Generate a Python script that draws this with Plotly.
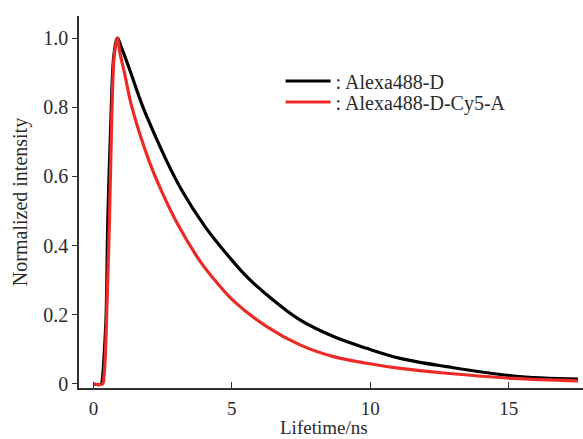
import plotly.graph_objects as go

# Data
black_x = [0, 0.28, 0.33, 0.40, 0.46, 0.52, 0.63, 0.74, 0.87, 1.0, 1.26, 1.79, 2.3, 2.63,
           3.19, 4.03, 5.0, 5.6, 6.26, 7.46, 8.67, 9.87, 11.08, 12.76, 15.17, 17.5]
black_y = [0, 0, 0.02, 0.10, 0.20, 0.47, 0.76, 0.95, 1.0, 0.975, 0.92, 0.80, 0.705, 0.647,
           0.56, 0.455, 0.358, 0.305, 0.258, 0.185, 0.137, 0.103, 0.074, 0.050, 0.023, 0.014]

red_x = [0, 0.33, 0.38, 0.44, 0.48, 0.58, 0.66, 0.76, 0.87, 0.95, 1.12, 1.39, 2.0, 2.47,
         3.07, 3.85, 4.28, 5.06, 6.26, 7.46, 8.67, 9.87, 11.08, 12.76, 15.17, 17.5]
red_y = [0, 0, 0.02, 0.10, 0.204, 0.474, 0.763, 0.956, 1.0, 0.96, 0.90, 0.80, 0.647, 0.556,
         0.458, 0.355, 0.310, 0.240, 0.166, 0.113, 0.079, 0.060, 0.045, 0.031, 0.016, 0.009]

x_ticks = [0, 5, 10, 15]
y_ticks = [0, 0.2, 0.4, 0.6, 0.8, 1.0]
y_tick_labels = ["0", "0.2", "0.4", "0.6", "0.8", "1.0"]
x_title = "Lifetime/ns"
y_title = "Normalized intensity"

FONT = "Liberation Serif"
TXT = "#2b2b2b"

fig = go.Figure()
fig.add_trace(go.Scatter(x=black_x, y=black_y, mode="lines", name=": Alexa488-D",
                         legend="legend",
                         line=dict(color="#000000", width=3.2, shape="spline", smoothing=1.0)))
fig.add_trace(go.Scatter(x=red_x, y=red_y, mode="lines", name=": Alexa488-D-Cy5-A",
                         legend="legend2",
                         line=dict(color="#ec2a27", width=3.2, shape="spline", smoothing=1.0)))

leg_common = dict(xanchor="left", yanchor="middle", bgcolor="rgba(0,0,0,0)",
                  font=dict(family=FONT, size=20, color=TXT), itemwidth=45)

fig.update_layout(
    width=583, height=439,
    margin=dict(l=79, r=0, t=16, b=51, autoexpand=False),
    paper_bgcolor="white", plot_bgcolor="white",
    font=dict(family=FONT, size=20, color=TXT),
    showlegend=True,
    legend=dict(x=0.40, y=1 - (81 - 16) / 372, **leg_common),
    legend2=dict(x=0.40, y=1 - (102 - 16) / 372, **leg_common),
    xaxis=dict(range=[-0.52, 17.68], tickvals=x_ticks, ticks="inside", ticklen=6,
               tickwidth=1.2, tickcolor="#333", showline=True, linecolor="#333",
               linewidth=1.6, showgrid=False, zeroline=False, ticklabelstandoff=2,
               automargin=False,
               tickfont=dict(family=FONT, size=19, color=TXT)),
    yaxis=dict(range=[-0.0116, 1.0636], tickvals=y_ticks, ticktext=y_tick_labels,
               ticks="outside", ticklen=5, tickwidth=1.2, tickcolor="#333",
               showline=True, linecolor="#333", linewidth=1.6, showgrid=False,
               zeroline=False, automargin=False,
               tickfont=dict(family=FONT, size=20, color=TXT),
               title=dict(text=y_title, standoff=10,
                          font=dict(family=FONT, size=20, color=TXT))),
    annotations=[dict(text=x_title, xref="paper", yref="paper",
                      x=(324 - 79) / 504, y=(388 - 428) / 372,
                      xanchor="center", yanchor="middle", showarrow=False,
                      font=dict(family=FONT, size=19, color=TXT))],
)

fig.write_html("out.html", config={"displayModeBar": False},
               post_script="document.body.style.margin='0';")
